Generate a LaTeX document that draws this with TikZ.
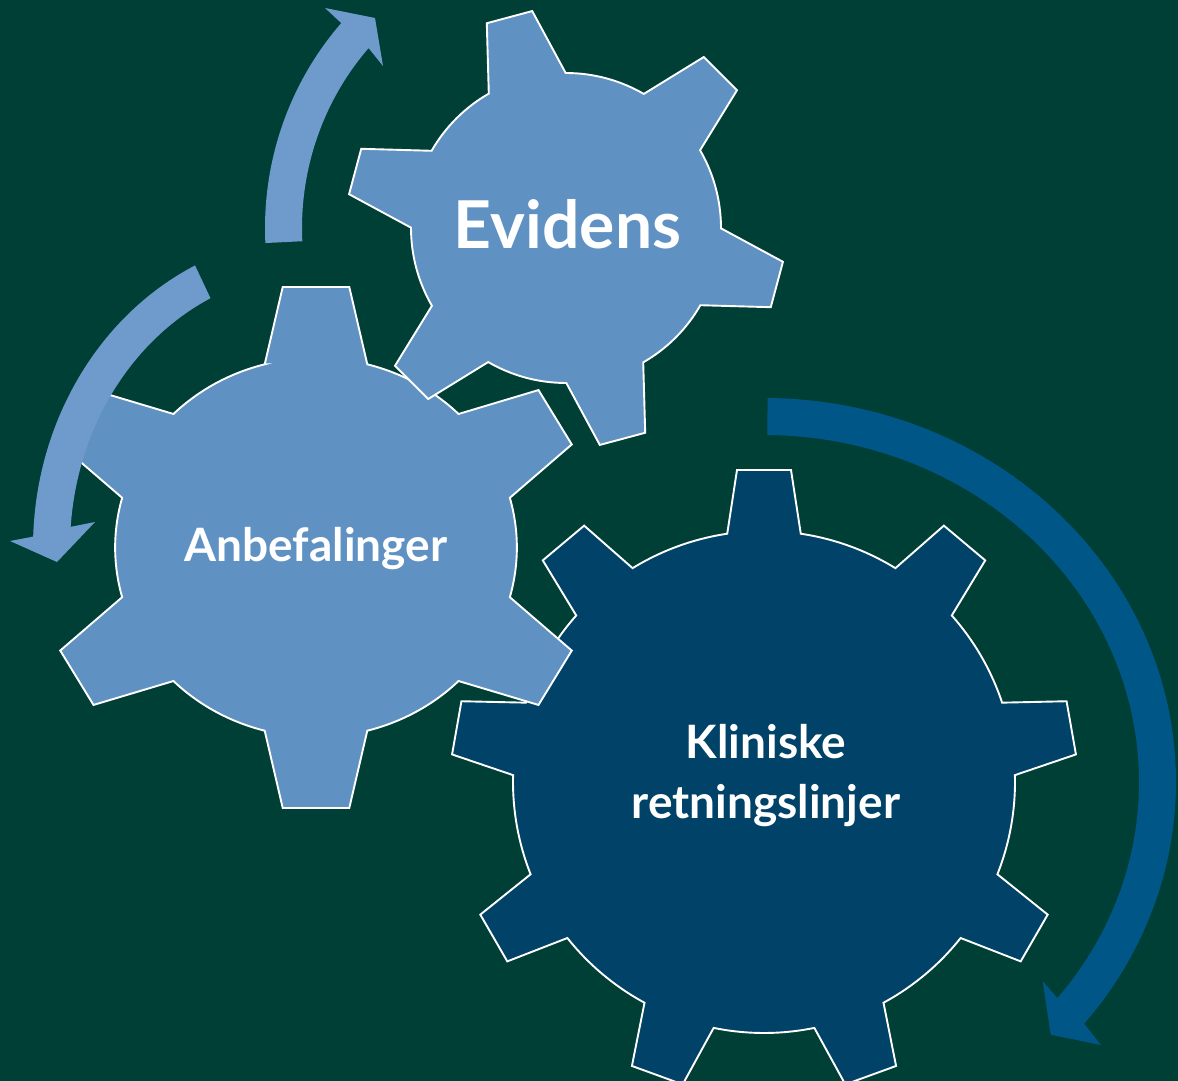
\documentclass[tikz,border=0pt]{standalone}
\usepackage{fontspec}
\setmainfont{Lato}
\usetikzlibrary{calc}

\definecolor{bgteal}{HTML}{003F35}
\definecolor{gearlight}{HTML}{6091C3}
\definecolor{geardark}{HTML}{004268}
\definecolor{arrowlight}{HTML}{6E9BCB}
\definecolor{arrowdark}{HTML}{005687}

% #1 style, #2 centre, #3 xscale, #4 teeth, #5 angle of first tooth,
% #6 body radius, #7 tip radius, #8 tip half width, #9 base half width
\newcommand\drawgear[9]{%
  \begin{scope}[shift={#2}, xscale=#3]
    \pgfmathsetmacro\gstep{360/#4}
    \pgfmathsetmacro\gb{asin(#9/#6)}
    \pgfmathsetmacro\gt{atan(#8/#7)}
    \pgfmathsetmacro\gR{veclen(#7,#8)}
    \path[#1] ({#5-\gb}:#6)
      \foreach \k in {1,...,#4}{
        -- ({#5+(\k-1)*\gstep-\gt}:\gR) -- ({#5+(\k-1)*\gstep+\gt}:\gR)
        -- ({#5+(\k-1)*\gstep+\gb}:#6)
        arc[start angle={#5+(\k-1)*\gstep+\gb}, delta angle={\gstep-2*\gb}, radius=#6]
      } -- cycle;
  \end{scope}}

\begin{document}
\begin{tikzpicture}[x=1pt, y=-1pt,
  gearlightstyle/.style={fill=gearlight, draw=white, line width=1.9pt, line join=miter},
  geardarkstyle/.style={fill=geardark, draw=white, line width=1.9pt, line join=miter},
  label/.style={text=white, font=\bfseries\fontsize{46}{55}\selectfont, anchor=base, inner sep=0pt},
  biglabel/.style={label, font=\bfseries\fontsize{66}{78}\selectfont}]

\useasboundingbox (0,0) rectangle (1178,1081);
\fill[bgteal] (0,0) rectangle (1178,1081);

\coordinate (c1) at (566,228);
\coordinate (c2) at (316,547.5);
\coordinate (c3) at (764,782);

% clockwise arrow around the lower gear
\fill[arrowdark]
  ($(c3)+(270.5:412 and 384)$)
  arc[start angle=270.5, end angle=399, x radius=412, y radius=384]
  -- (1101,1045) -- (1050.7,1034.7) -- (1042.7,981.3)
  -- ($(c3)+(398.5:375 and 347)$)
  arc[start angle=398.5, end angle=270.5, x radius=375, y radius=347]
  -- cycle;

% gears, from back to front
\drawgear{geardarkstyle}{(c3)}{1}{9}{-90}{251}{312}{27}{36.8}
\drawgear{gearlightstyle}{(c2)}{1.06}{6}{-90}{189.5}{260.5}{31.4}{48.4}
\drawgear{gearlightstyle}{(c1)}{1}{6}{-105}{155}{218.3}{23.5}{39.8}

% arrow rising towards the top gear
\fill[arrowlight]
  ($(c1)+(177.2:301 and 308)$)
  arc[start angle=177.2, end angle=221.7, x radius=301, y radius=308]
  -- (325,8) -- (375,18) -- (383,66)
  -- ($(c1)+(221.6:264 and 271)$)
  arc[start angle=221.6, end angle=177.2, x radius=264, y radius=271]
  -- cycle;

% arrow turning down round the left gear
\fill[arrowlight]
  ($(c2)+(244.7:283 and 312)$)
  arc[start angle=244.7, end angle=182, x radius=283, y radius=312]
  -- (10,541) -- (57,562) -- (95,522)
  -- ($(c2)+(184.3:246 and 276)$)
  arc[start angle=184.3, end angle=244.6, x radius=246, y radius=276]
  -- cycle;

% labels
\node[biglabel] (evidens) at (567.5,248) {Evidens};
\node[label] (anbefalinger) at (316,561) {Anbefalinger};
\node[label] (kliniske) at (766,758) {Kliniske};
\node[label] (retningslinjer) at (766,818) {retningslinjer};

\end{tikzpicture}
\end{document}
